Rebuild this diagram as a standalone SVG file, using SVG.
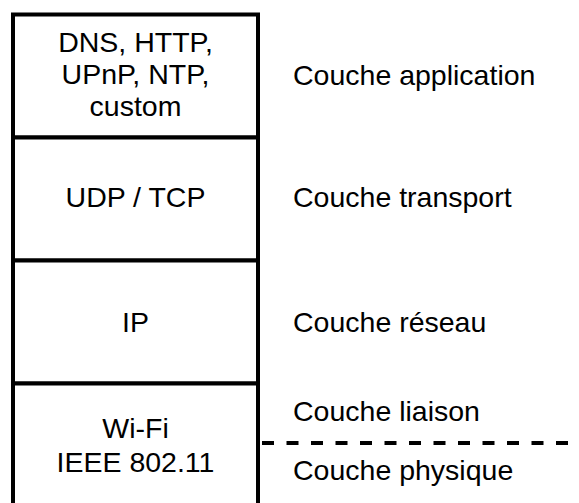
<svg xmlns="http://www.w3.org/2000/svg" width="579" height="503" viewBox="0 0 579 503">
<style>
text{font-family:"Liberation Sans",Arial,sans-serif;font-size:28.5px;fill:#000}
.c{text-anchor:middle}
.box{fill:#fff;stroke:#000;stroke-width:4}
</style>
<rect width="579" height="503" fill="#fff"/>
<g id="app"><rect class="box" x="13" y="14.5" width="245" height="123"/>
<text class="c" x="135.5" y="52">DNS, HTTP,</text>
<text class="c" x="135.5" y="84">UPnP, NTP,</text>
<text class="c" x="135.5" y="116">custom</text></g>
<g id="transport"><rect class="box" x="13" y="137.5" width="245" height="123"/>
<text class="c" x="135.5" y="207">UDP / TCP</text></g>
<g id="network"><rect class="box" x="13" y="260.5" width="245" height="123"/>
<text class="c" x="135.5" y="332">IP</text></g>
<g id="link"><rect class="box" x="13" y="383.5" width="245" height="130"/>
<text class="c" x="135.5" y="438">Wi-Fi</text>
<text class="c" x="135.5" y="472">IEEE 802.11</text></g>
<g id="connectors"><line x1="262" y1="443" x2="568" y2="443" stroke="#000" stroke-width="4" stroke-dasharray="12 12.5"/></g>
<g id="labels">
<text x="293" y="85">Couche application</text>
<text x="293" y="207">Couche transport</text>
<text x="293" y="332">Couche réseau</text>
<text x="293" y="421">Couche liaison</text>
<text x="293" y="480">Couche physique</text>
</g>
</svg>
